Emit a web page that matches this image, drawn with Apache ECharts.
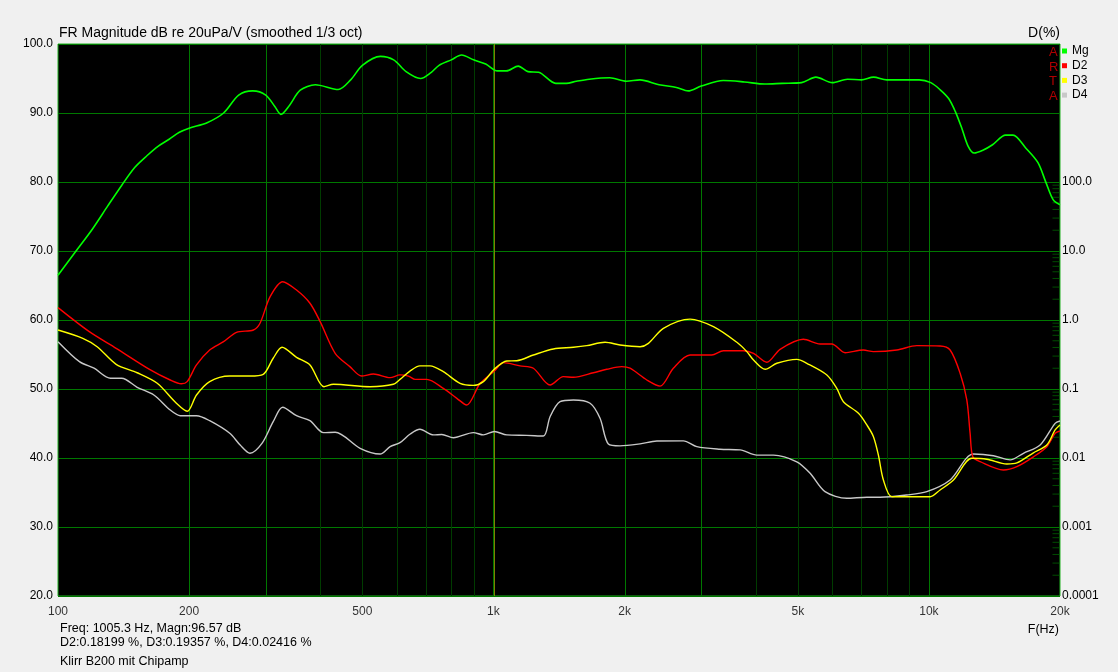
<!DOCTYPE html>
<html>
<head>
<meta charset="utf-8">
<script src="https://cdn.jsdelivr.net/npm/echarts@6/dist/echarts.min.js"></script>
<style>
html,body{margin:0;padding:0;background:#f0f0f0;}
#chart{width:1118px;height:672px;}
</style>
</head>
<body>
<div id="chart"></div>
<script>
// ---- data ----
const magFreq = [100,110,120,130,140,150,160,170,180,190,200,220,240,260,280,300,315,325,340,360,390,440,470,500,550,590,630,680,720,750,800,845,900,960,1020,1070,1140,1200,1270,1390,1470,1550,1660,1850,2020,2170,2400,2630,2800,3000,3370,3770,4200,4600,5100,5500,6000,6500,7000,7460,8000,9500,10100,10600,11100,11500,11900,12300,12700,13300,14000,15000,15600,16700,17800,18600,19300,20000];
const magDb = [66.5,70.0,73.2,76.5,79.5,82.1,83.8,85.2,86.2,87.2,87.8,88.6,90.0,92.6,93.2,92.6,90.9,89.8,91.1,93.3,94.1,93.4,94.8,96.9,98.2,97.7,96.0,95.0,95.9,96.9,97.7,98.4,97.7,97.1,96.1,96.1,96.8,96.0,95.9,94.3,94.3,94.6,94.9,95.1,94.6,94.8,94.1,93.7,93.2,93.9,94.7,94.5,94.2,94.3,94.4,95.2,94.4,94.9,94.8,95.2,94.8,94.8,94.4,93.4,92.1,90.2,87.8,85.2,84.2,84.6,85.4,86.8,86.8,84.9,82.8,79.8,77.4,76.7];

const d2Freq = [100,118,136,163,181,192,198,208,223,240,257,281,291,307,328,353,379,400,433,468,498,530,579,610,638,661,703,767,824,868,932,1005,1054,1151,1235,1349,1447,1526,1696,1821,1971,2059,2250,2413,2589,2828,3172,3373,3750,3956,4244,4552,5148,5625,5984,6420,7072,7458,8440,9381,10610,11186,11794,12218,12434,12613,13110,14830,15919,17378,18655,19490,20000];
const d2Pct = [1.51,0.677,0.389,0.189,0.135,0.119,0.128,0.223,0.367,0.485,0.663,0.716,0.896,2.18,3.59,2.72,1.75,0.946,0.329,0.211,0.154,0.165,0.146,0.160,0.154,0.138,0.138,0.102,0.0733,0.0586,0.121,0.182,0.241,0.216,0.200,0.114,0.151,0.148,0.172,0.193,0.211,0.200,0.135,0.110,0.200,0.311,0.311,0.359,0.359,0.329,0.244,0.376,0.525,0.449,0.449,0.336,0.367,0.348,0.367,0.425,0.420,0.367,0.169,0.0693,0.0228,0.0104,0.00884,0.0067,0.0075,0.0104,0.0146,0.0228,0.0246];

const d3Freq = [100,114,123,136,152,169,187,198,208,223,248,276,296,312,327,353,379,408,429,521,589,610,643,678,715,767,838,899,948,1005,1073,1131,1235,1373,1526,1638,1804,1953,2171,2269,2456,2828,3200,3622,3818,3956,4207,4474,4973,5244,5830,6144,6362,6890,7203,7458,7656,7861,8217,8899,10060,10610,11385,12547,13584,15100,15919,17378,18655,19490,20000];
const d3Pct = [0.716,0.543,0.410,0.228,0.172,0.121,0.0621,0.0475,0.0819,0.128,0.154,0.154,0.163,0.279,0.402,0.288,0.223,0.108,0.117,0.108,0.117,0.138,0.182,0.216,0.216,0.178,0.121,0.113,0.128,0.194,0.255,0.257,0.311,0.380,0.402,0.425,0.475,0.434,0.410,0.459,0.758,1.03,0.80,0.475,0.348,0.263,0.193,0.236,0.269,0.236,0.160,0.102,0.0655,0.0444,0.0301,0.0204,0.0110,0.0048,0.00275,0.00275,0.00275,0.00344,0.0048,0.0099,0.0096,0.0082,0.0085,0.0119,0.0154,0.0255,0.0301];

const d4Freq = [100,112,121,132,140,152,166,181,191,208,223,248,262,276,294,312,328,353,379,407,433,494,549,579,610,644,678,728,761,809,899,948,1005,1073,1193,1302,1349,1422,1526,1667,1757,1836,1953,2171,2372,2730,2931,3314,3686,4025,4396,4973,5336,5774,6478,7203,7727,8899,9888,11186,12652,14065,15370,16482,18006,19490,20000];
const d4Pct = [0.485,0.249,0.200,0.143,0.143,0.106,0.0819,0.0497,0.0410,0.0410,0.0347,0.0228,0.0154,0.0117,0.0163,0.0336,0.0543,0.0410,0.0347,0.0233,0.0236,0.0138,0.0114,0.0146,0.0167,0.0223,0.0261,0.0216,0.0219,0.0197,0.0233,0.0216,0.0242,0.0216,0.0213,0.0208,0.0397,0.0655,0.0693,0.0621,0.0376,0.0160,0.0150,0.0160,0.0176,0.0177,0.0146,0.0134,0.0131,0.0110,0.0110,0.0088,0.0060,0.00325,0.00261,0.0027,0.0027,0.00291,0.00325,0.0048,0.0114,0.0108,0.0094,0.0117,0.0154,0.0318,0.0344];

// axis / tick definitions
const xLabelValues = [100,200,500,1000,2000,5000,10000,20000];
const xLabelTexts = ['100','200','500','1k','2k','5k','10k','20k'];
const xGridBright = [200,300,1000,2000,3000,10000];
const xGridDark = [400,500,600,700,800,900,4000,5000,6000,7000,8000,9000];
const cursorFreq = [1005.3];
const rightDecades = [0.0001,0.001,0.01,0.1,1,10];
const rightMinorMult = [2,3,4,5,6,7,8,9];

const FONT = 'Liberation Sans, Arial, sans-serif';
const minorTicks = [];
rightDecades.forEach(d => rightMinorMult.forEach(m => minorTicks.push(+(d*m).toPrecision(3))));

const pairs = (xs, ys) => xs.map((x, i) => [x, ys[i]]);

// vertical grid lines drawn through the x axis scale, snapped to whole pixels
function vLines(name, values, color) {
  return {
    name: name, type: 'custom', silent: true, z: 1, clip: false,
    data: values.map(v => [v, 20]),
    encode: {x: 0, y: 1},
    renderItem: (params, api) => {
      const f = api.value(0);
      const p0 = api.coord([f, 20]);
      const p1 = api.coord([f, 100]);
      const x = Math.round(p0[0]) + 0.5;
      return {type: 'line', shape: {x1: x, y1: p0[1], x2: x, y2: p1[1]},
              style: {stroke: color, lineWidth: 1}};
    }
  };
}

const chart = echarts.init(document.getElementById('chart'), null, {renderer: 'canvas'});
chart.setOption({
  backgroundColor: '#f0f0f0',
  animation: false,
  textStyle: {fontFamily: FONT},
  title: [
    {text: 'FR Magnitude dB re 20uPa/V (smoothed 1/3 oct)', left: 59, top: 26, padding: 0,
     textStyle: {fontSize: 14, fontWeight: 'normal', color: '#000', lineHeight: 14, fontFamily: FONT}},
    {text: 'D(%)', right: 58, top: 26, padding: 0,
     textStyle: {fontSize: 14, fontWeight: 'normal', color: '#000', lineHeight: 14, fontFamily: FONT}},
    {text: 'A\nR\nT\nA', left: 1049, top: 45, padding: 0,
     textStyle: {fontSize: 13, fontWeight: 'normal', color: '#b00000', lineHeight: 14.7, fontFamily: FONT}},
    {text: 'F(Hz)', right: 59, top: 623, padding: 0,
     textStyle: {fontSize: 12.5, fontWeight: 'normal', color: '#000', lineHeight: 14, fontFamily: FONT}},
    {text: 'Freq: 1005.3 Hz, Magn:96.57 dB', left: 60, top: 622, padding: 0,
     textStyle: {fontSize: 12.5, fontWeight: 'normal', color: '#000', lineHeight: 14, fontFamily: FONT}},
    {text: 'D2:0.18199 %, D3:0.19357 %, D4:0.02416 %', left: 60, top: 636, padding: 0,
     textStyle: {fontSize: 12.5, fontWeight: 'normal', color: '#000', lineHeight: 14, fontFamily: FONT}},
    {text: 'Klirr B200 mit Chipamp', left: 60, top: 655, padding: 0,
     textStyle: {fontSize: 12.5, fontWeight: 'normal', color: '#000', lineHeight: 14, fontFamily: FONT}}
  ],
  legend: {
    data: ['Mg','D2','D3','D4'],
    orient: 'vertical', left: 1062, top: 44, padding: 0,
    itemWidth: 5, itemHeight: 5, itemGap: 0.7, icon: 'rect',
    selectedMode: false,
    textStyle: {fontSize: 12, color: '#000', lineHeight: 14, fontFamily: FONT}
  },
  grid: {left: 58, right: 58, top: 44, bottom: 76, show: true,
         backgroundColor: '#000000', borderColor: '#20b020', borderWidth: 1},
  xAxis: {
    type: 'log', logBase: 10, min: 100, max: 20000,
    axisLine: {show: false}, axisTick: {show: false}, axisLabel: {show: false},
    splitLine: {show: false}
  },
  yAxis: [
    {type: 'value', min: 20, max: 100, interval: 10, position: 'left',
     axisLine: {show: false}, axisTick: {show: false},
     axisLabel: {formatter: v => v.toFixed(1), color: '#000', fontSize: 12, margin: 5, fontFamily: FONT},
     splitLine: {show: true, lineStyle: {color: '#007800', width: 1}}},
    {type: 'log', logBase: 10, min: 0.0001, max: 10000, splitNumber: 8, position: 'right',
     axisLine: {show: false}, axisTick: {show: false}, splitLine: {show: false},
     axisLabel: {color: '#000', fontSize: 12, margin: 2, fontFamily: FONT,
       formatter: v => { const e = Math.round(Math.log10(v)); if (e > 2) return ''; return e >= 0 ? Math.pow(10, e).toFixed(1) : Math.pow(10, e).toFixed(-e); }}}
  ],
  series: [
    vLines('gridDark', xGridDark, '#003c00'),
    vLines('gridBright', xGridBright, '#007800'),
    vLines('cursor', cursorFreq, '#808000'),
    {name: 'xlabels', type: 'scatter', silent: true, z: 2, clip: false,
     data: xLabelValues.map(v => [v, 20]), symbol: 'rect', symbolSize: 1,
     itemStyle: {color: 'rgba(0,0,0,0)'},
     label: {show: true, position: 'bottom', distance: 9, color: '#000', fontSize: 12, fontFamily: FONT,
             formatter: p => xLabelTexts[p.dataIndex]}},
    {name: 'ticks', type: 'scatter', xAxisIndex: 0, yAxisIndex: 1, silent: true, z: 2, clip: false,
     data: minorTicks.map(v => [20000, v]), symbol: 'rect', symbolSize: [7,1], symbolOffset: [-4,0],
     itemStyle: {color: '#006000'}},
    {name: 'D4', type: 'line', yAxisIndex: 1, data: pairs(d4Freq, d4Pct), symbol: 'none', smooth: 0.3, silent: true, z: 3,
     lineStyle: {color: '#c8c8c8', width: 1.4}, itemStyle: {color: '#c8c8c8'}},
    {name: 'D2', type: 'line', yAxisIndex: 1, data: pairs(d2Freq, d2Pct), symbol: 'none', smooth: 0.3, silent: true, z: 3,
     lineStyle: {color: '#ff0000', width: 1.4}, itemStyle: {color: '#ff0000'}},
    {name: 'D3', type: 'line', yAxisIndex: 1, data: pairs(d3Freq, d3Pct), symbol: 'none', smooth: 0.3, silent: true, z: 3,
     lineStyle: {color: '#ffff00', width: 1.4}, itemStyle: {color: '#ffff00'}},
    {name: 'Mg', type: 'line', data: pairs(magFreq, magDb), symbol: 'none', smooth: 0.3, silent: true, z: 4,
     lineStyle: {color: '#00ff00', width: 1.6}, itemStyle: {color: '#00ff00'}}
  ]
});
</script>
</body>
</html>
